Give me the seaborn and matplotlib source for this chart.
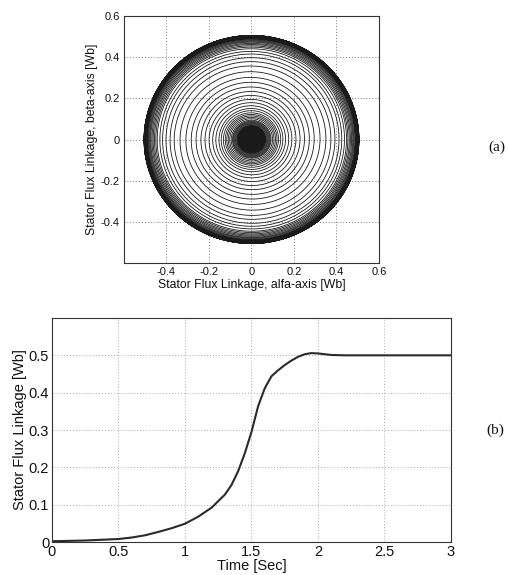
import numpy as np
import pandas as pd
import matplotlib
matplotlib.use("Agg")
import matplotlib.pyplot as plt
import seaborn as sns

# ---- data (flux magnitude vs time) ----
time_s = [0.0, 0.25, 0.5, 0.6, 0.7, 0.8, 0.9, 1.0, 1.1, 1.2, 1.3, 1.35,
          1.4, 1.45, 1.5, 1.55, 1.6, 1.65, 1.7, 1.75, 1.8, 1.85, 1.9, 1.95,
          2.0, 2.1, 2.2, 2.5, 3.0]
flux_wb = [0.002, 0.004, 0.008, 0.012, 0.018, 0.027, 0.037, 0.049, 0.068,
           0.092, 0.127, 0.153, 0.19, 0.238, 0.295, 0.364, 0.412, 0.444,
           0.46, 0.474, 0.486, 0.496, 0.503, 0.506, 0.505, 0.501, 0.500,
           0.500, 0.500]
supply_freq_hz = 50  # electrical rotation of the stator flux vector

xy_ticks = [-0.4, -0.2, 0, 0.2, 0.4, 0.6]
xy_ticklabels = ["-0.4", "-0.2", "0", "0.2", "0.4", "0.6"]
time_ticks = [0, 0.5, 1, 1.5, 2, 2.5, 3]
time_ticklabels = ["0", "0.5", "1", "1.5", "2", "2.5", "3"]
flux_ticks = [0, 0.1, 0.2, 0.3, 0.4, 0.5]
flux_ticklabels = ["0", "0.1", "0.2", "0.3", "0.4", "0.5"]

# ---- trajectory of flux vector in alpha-beta plane ----
t_dense = np.linspace(0, 3, 45001)
r_dense = np.interp(t_dense, time_s, flux_wb)
ang = 2 * np.pi * supply_freq_hz * t_dense
traj = pd.DataFrame({"alpha": r_dense * np.cos(ang),
                     "beta": r_dense * np.sin(ang)})
mag = pd.DataFrame({"t": time_s, "psi": flux_wb})

sns.set_theme(style="white")
plt.rcParams["font.family"] = ["Liberation Sans", "DejaVu Sans"]
plt.rcParams["axes.unicode_minus"] = False
plt.rcParams["text.color"] = "#111111"
plt.rcParams["axes.labelcolor"] = "#111111"

fig = plt.figure(figsize=(5.10, 5.75), dpi=100)
ax1 = fig.add_axes([124 / 510, 1 - 263 / 575, 255 / 510, 247 / 575])
ax2 = fig.add_axes([52 / 510, 1 - 542 / 575, 399 / 510, 224 / 575])

# (a) spiral
sns.lineplot(data=traj, x="alpha", y="beta", sort=False, estimator=None,
             color="#1a1a1a", linewidth=0.6, ax=ax1)
ax1.set_xlim(-0.6, 0.6)
ax1.set_ylim(-0.6, 0.6)
ax1.set_xticks(xy_ticks)
ax1.set_xticklabels(xy_ticklabels)
ax1.set_yticks(xy_ticks)
ax1.set_yticklabels(xy_ticklabels)
ax1.set_xlabel("Stator Flux Linkage, alfa-axis [Wb]", fontsize=8.8, labelpad=1)
ax1.set_ylabel("Stator Flux Linkage, beta-axis [Wb]", fontsize=8.8, labelpad=2)
ax1.tick_params(labelsize=8, direction="in", length=3, pad=3, colors="#111111")
ax1.grid(True, color="#777777", linestyle=(0, (1, 2)), linewidth=0.7)

# (b) flux magnitude
sns.lineplot(data=mag, x="t", y="psi", color="#2a2a2a", linewidth=1.5, ax=ax2)
ax2.set_xlim(0, 3)
ax2.set_ylim(0, 0.6)
ax2.set_xticks(time_ticks)
ax2.set_xticklabels(time_ticklabels)
ax2.set_yticks(flux_ticks)
ax2.set_yticklabels(flux_ticklabels)
ax2.set_xlabel("Time [Sec]", fontsize=10.5, labelpad=0)
ax2.set_ylabel("Stator Flux Linkage [Wb]", fontsize=10.5, labelpad=1)
ax2.tick_params(labelsize=10.5, direction="in", length=3, pad=2, colors="#111111")
ax2.grid(True, color="#aaaaaa", linestyle=(0, (1, 2)), linewidth=0.7)

for ax in (ax1, ax2):
    for s in ax.spines.values():
        s.set_color("#333333")
        s.set_linewidth(0.8)
        s.set_visible(True)

fig.text(497 / 510, 1 - 147 / 575, "(a)", family=["Liberation Serif", "DejaVu Serif"],
         fontsize=11, ha="center", va="center")
fig.text(495 / 510, 1 - 430 / 575, "(b)", family=["Liberation Serif", "DejaVu Serif"],
         fontsize=11, ha="center", va="center")

fig.savefig("out.png", dpi=100, facecolor="white")
